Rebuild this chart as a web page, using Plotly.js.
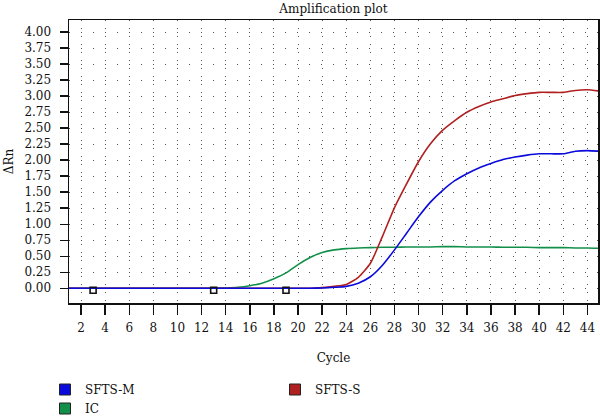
<!DOCTYPE html>
<html>
<head>
<meta charset="utf-8">
<script src="https://cdn.plot.ly/plotly-3.0.1.min.js"></script>
<style>html,body{margin:0;padding:0;background:#fff;}#chart{width:600px;height:419px;}</style>
</head>
<body>
<div id="chart"></div>
<script>
const cycles = [1,2,3,4,5,6,7,8,9,10,11,12,13,14,15,16,17,18,19,20,21,22,23,24,25,26,27,28,29,30,31,32,33,34,35,36,37,38,39,40,41,42,43,44,45];
const sftsM = [0,0,0,0,0,0,0,0,0,0,0,0,0,0,0,0,0,0,0,0,0,0.005,0.015,0.03,0.08,0.18,0.36,0.60,0.86,1.12,1.35,1.53,1.68,1.79,1.88,1.95,2.01,2.05,2.08,2.10,2.10,2.10,2.14,2.15,2.14];
const sftsS = [0,0,0,0,0,0,0,0,0,0,0,0,0,0,0,0,0,0,0,0,0,0.01,0.03,0.06,0.17,0.39,0.81,1.26,1.63,1.98,2.26,2.47,2.62,2.75,2.84,2.91,2.96,3.01,3.04,3.06,3.06,3.06,3.09,3.10,3.08];
const ic = [0,0,0,0,0,0,0,0,0,0,0,0,0,0.005,0.015,0.04,0.08,0.15,0.24,0.37,0.48,0.56,0.60,0.62,0.63,0.635,0.64,0.64,0.645,0.645,0.645,0.65,0.65,0.645,0.645,0.645,0.64,0.64,0.64,0.635,0.635,0.635,0.63,0.63,0.625];
const markerCycles = [3,13,19];
const markerValues = [-0.03,-0.03,-0.03];
const seriesNames = ['SFTS-M','SFTS-S','IC'];
const seriesColors = ['#0a0adc','#b02020','#12904a'];
const seriesData = [sftsM, sftsS, ic];

const font = 'DejaVu Serif, serif';
const traces = [];
[2,1,0].forEach(i => {
  traces.push({x: cycles, y: seriesData[i], type: 'scatter', mode: 'lines',
    line: {color: seriesColors[i], width: 1.6, shape: 'spline', smoothing: 0.6},
    showlegend: false, hoverinfo: 'skip'});
});
traces.push({x: markerCycles, y: markerValues, type: 'scatter', mode: 'markers',
  marker: {symbol: 'square-open', size: 6, color: '#111', line: {width: 1.6, color: '#111'}},
  showlegend: false, hoverinfo: 'skip'});
[0,1,2].forEach(i => {
  traces.push({x: [null], y: [null], type: 'scatter', mode: 'markers', name: seriesNames[i],
    marker: {symbol: 'square', size: 11, color: seriesColors[i], line: {width: 1, color: '#222'}},
    showlegend: true});
});

const layout = {
  width: 600, height: 419,
  margin: {l: 69, r: 2, t: 20, b: 116, autoexpand: false},
  paper_bgcolor: '#fff', plot_bgcolor: '#fff',
  font: {family: font, size: 12, color: '#111'},
  title: {text: 'Amplification plot', font: {family: font, size: 12, color: '#111'},
    x: 0.5, xref: 'paper', y: 0.98, yanchor: 'middle'},
  xaxis: {range: [1, 44.88], tick0: 2, dtick: 2, ticks: 'outside', ticklen: 10, tickwidth: 1.5,
    tickcolor: '#111', showline: true, linecolor: '#111', linewidth: 1.5, mirror: true,
    showgrid: true, gridcolor: '#555', gridwidth: 1, griddash: '1px,7px', zeroline: false,
    automargin: false, ticklabelstandoff: 3,
    tickfont: {family: font, size: 12, color: '#111'},
    title: {text: 'Cycle', font: {family: font, size: 12, color: '#111'}, standoff: 19}},
  yaxis: {range: [-0.23, 4.19], tick0: 0, dtick: 0.25, tickformat: '.2f', ticks: 'outside', ticklen: 8,
    tickwidth: 1.5, tickcolor: '#111', showline: true, linecolor: '#111', linewidth: 1.5, mirror: true,
    showgrid: true, gridcolor: '#555', gridwidth: 1, griddash: '1px,11px', zeroline: false,
    automargin: false, ticklabelstandoff: 6,
    tickfont: {family: font, size: 12, color: '#111'},
    title: {text: 'ΔRn', font: {family: font, size: 12, color: '#111'}, standoff: 8}},
  legend: {orientation: 'h', xref: 'container', x: 0.075, xanchor: 'left', yref: 'container', y: 0.105, yanchor: 'top',
    entrywidth: 185, entrywidthmode: 'pixels', font: {family: font, size: 12, color: '#111'},
    bgcolor: 'rgba(0,0,0,0)'},
  showlegend: true
};
Plotly.newPlot('chart', traces, layout, {displayModeBar: false, staticPlot: true});
</script>
</body>
</html>
